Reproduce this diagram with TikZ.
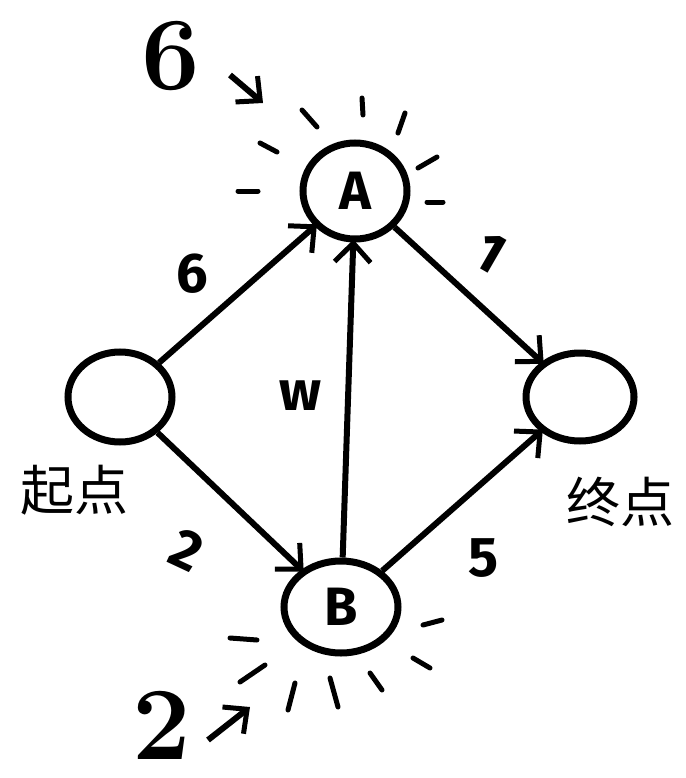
\documentclass[tikz,border=0pt]{standalone}
\usepackage{fontspec}
\setsansfont{Fira Sans}
\newfontfamily\cjk{Noto Sans CJK SC}
\usetikzlibrary{shapes.geometric,arrows.meta}
\tikzset{
  vert/.style={ellipse,draw,line width=7pt,inner sep=0pt,font=\sffamily\bfseries\fontsize{54}{54}\selectfont},
  barb/.style={-{Straight Barb[length=19pt,width=36pt,line width=5pt]}},
  edge/.style={line width=6pt,barb,shorten >=-3pt},
  wlabel/.style={font=\sffamily\bfseries\fontsize{56}{56}\selectfont},
  ray/.style={line width=5pt,line cap=round},
  bignum/.style={inner sep=0pt,font=\bfseries\fontsize{104}{104}\selectfont},
  cjklabel/.style={font=\cjk\fontsize{54}{54}\selectfont},
}
\begin{document}
\begin{tikzpicture}[x=1pt,y=-1pt]
\useasboundingbox (0,0) rectangle (685,778);
% vertices
\node[vert,minimum width=104pt,minimum height=90pt] (S) at (120,397) {};
\node[vert,minimum width=104pt,minimum height=96pt] (A) at (355,191) {A};
\node[vert,minimum width=114pt,minimum height=92pt] (B) at (341,607) {B};
\node[vert,minimum width=108pt,minimum height=88pt] (E) at (580,397) {};
% edges
\draw[edge] (S) -- (A);
\draw[edge] (S) -- (B);
\draw[edge] (B) -- (A);
\draw[edge] (A) -- (E);
\draw[edge] (B) -- (E);
% edge labels
\node[wlabel] (l6) at (192,274) {6};
\node[wlabel,rotate=-25] (l2) at (187,550) {2};
\node[wlabel] (lw) at (300,396) {w};
\node[wlabel,rotate=-30] (l1) at (490,253) {1};
\node[wlabel] (l5) at (483,558) {5};
% chinese labels
\node[cjklabel] (qd) at (74,490) {起点};
\node[cjklabel] (zd) at (620,502) {终点};
% big numbers with arrows
\node[bignum] (n6) at (171,56) {6};
\coordinate (a6s) at (230,75);
\coordinate (a6e) at (263,103);
\draw[line width=6pt,-{Straight Barb[length=18pt,width=34pt,line width=5pt]}] (a6s) -- (a6e);
\node[bignum] (n2) at (162,725) {2};
\coordinate (a2s) at (208,740);
\coordinate (a2e) at (250,707);
\draw[line width=6pt,-{Straight Barb[length=18pt,width=34pt,line width=5pt]}] (a2s) -- (a2e);
% rays around A
\draw[ray] (260,143) -- (277,152);
\draw[ray] (238,191) -- (258,191);
\draw[ray] (302,110) -- (317,127);
\draw[ray] (362,98) -- (363,115);
\draw[ray] (405,113) -- (398,133);
\draw[ray] (418,168) -- (437,157);
\draw[ray] (427,202) -- (443,202);
% rays around B
\draw[ray] (423,625) -- (442,620);
\draw[ray] (413,658) -- (430,668);
\draw[ray] (370,673) -- (382,690);
\draw[ray] (330,678) -- (338,707);
\draw[ray] (295,683) -- (288,710);
\draw[ray] (265,665) -- (240,682);
\draw[ray] (230,638) -- (257,640);
\end{tikzpicture}
\end{document}
